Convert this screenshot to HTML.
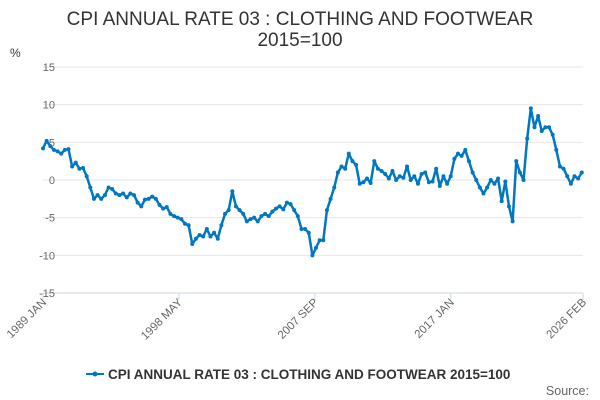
<!DOCTYPE html>
<html><head><meta charset="utf-8"><style>
body{margin:0;background:#fff;font-family:"Liberation Sans",sans-serif;}
#c{position:relative;width:600px;height:400px;overflow:hidden;}
</style></head><body>
<div id="c">
<svg id="s" width="600" height="400" xmlns="http://www.w3.org/2000/svg" font-family="Liberation Sans, sans-serif">
<text x="300" y="25" text-anchor="middle" font-size="19" fill="#333">CPI ANNUAL RATE 03 : CLOTHING AND FOOTWEAR</text>
<text x="300" y="46" text-anchor="middle" font-size="19" fill="#333">2015=100</text>
<text x="10" y="57" font-size="12" fill="#333">%</text>
<g id="grid"></g><g id="xax"></g><g id="ser"></g>
<g>
<line x1="86" y1="374" x2="104" y2="374" stroke="#0077c0" stroke-width="2"/>
<circle cx="95" cy="374" r="2.5" fill="#0077c0"/>
<text x="108" y="379" font-size="13.5" font-weight="bold" fill="#333">CPI ANNUAL RATE 03 : CLOTHING AND FOOTWEAR 2015=100</text>
</g>
<text x="589" y="395" text-anchor="end" font-size="12.5" fill="#666">Source:</text>
</svg>
</div>
<script>
const yTicks=[15,10,5,0,-5,-10,-15];
const xLabels=["1989 JAN","1998 MAY","2007 SEP","2017 JAN","2026 FEB"];
const xLabelIdx=[0,112,224,336,445];
const values=[4.2,5.2,4.5,4.0, 3.8,3.5,4.0,4.1, 1.8,2.3,1.5,1.6, 0.5,-1.0,-2.5,-2.0,
-2.5,-2.0,-1.0,-1.2, -1.8,-2.0,-1.8,-2.3, -1.8,-2.0,-3.0,-3.5, -2.6,-2.5,-2.2,-2.5,
-3.3,-3.8,-3.6,-4.5, -4.8,-5.0,-5.2,-5.8, -6.0,-8.5,-7.8,-7.3, -7.5,-6.5,-7.5,-7.0,
-7.8,-6.0,-4.5,-4.0, -1.5,-3.5,-4.0,-4.5, -5.5,-5.2,-5.0,-5.5, -4.8,-4.5,-4.8,-4.2,
-3.8,-3.5,-3.9,-3.0, -3.2,-4.0,-4.8,-6.5, -6.5,-7.0,-10.0,-9.0, -8.0,-8.0,-4.0,-2.5,
-1.0,1.0,1.8,1.5, 3.5,2.5,2.0,-0.5, -0.3,0.2,-0.4,2.5, 1.5,1.2,0.8,0.2,
1.2,0.0,0.5,0.3, 1.8,0.0,0.5,-0.5, 0.8,1.0,-0.3,-0.2, 1.5,-0.8,0.5,-0.5,
0.5,2.8,3.5,3.2, 4.0,2.5,1.0,0.0, -1.0,-1.8,-1.0,0.0, -0.5,0.2,-2.8,-0.2,
-3.5,-5.5,2.5,1.0, 0.0,5.5,9.5,7.0, 8.5,6.5,7.0,7.0, 6.0,4.0,1.8,1.5,
0.5,-0.5,0.5,0.2, 1.0];
const NS="http://www.w3.org/2000/svg";
const X0=43,X1=583,Y0=180,K=226/30;
function xs(m){return X0+(X1-X0)*m/445;}
function ys(v){return Y0-v*K;}
function mk(t,a,p){const e=document.createElementNS(NS,t);for(const k in a)e.setAttribute(k,a[k]);p.appendChild(e);return e;}
const grid=document.getElementById('grid');
yTicks.forEach(v=>{
 const l=mk('line',{x1:X0,x2:X1,y1:ys(v),y2:ys(v),stroke:v===-15?'#ccd6eb':'#e6e6e6','stroke-width':1},grid);
 
 
 const t=mk('text',{x:55,y:ys(v)+4,'text-anchor':'end','font-size':11,fill:'#666'},grid);
 t.textContent=v;
 
 
});
const xax=document.getElementById('xax');
xLabels.forEach((s,i)=>{
 const x=xs(xLabelIdx[i]);
 const tk=mk('line',{x1:x,x2:x,y1:293,y2:300,stroke:'#ccd6eb'},xax);
 
 
 const t=mk('text',{x:x+4,y:303,'text-anchor':'end','font-size':11.5,fill:'#666',transform:`rotate(-45 ${x+4} 303)`},xax);
 t.textContent=s;
 
 
});
const ser=document.getElementById('ser');
const pts=values.map((v,i)=>[xs(i*3>445?445:i*3),ys(v)]);
const pl=mk('polyline',{points:pts.map(p=>p.join(',')).join(' '),fill:'none',stroke:'#0077c0','stroke-width':2.5,'stroke-linejoin':'round'},ser);


pts.forEach(p=>{
 const c=mk('circle',{cx:p[0],cy:p[1],r:2,fill:'#0077c0'},ser);
 
 
});
</script>
</body></html>
